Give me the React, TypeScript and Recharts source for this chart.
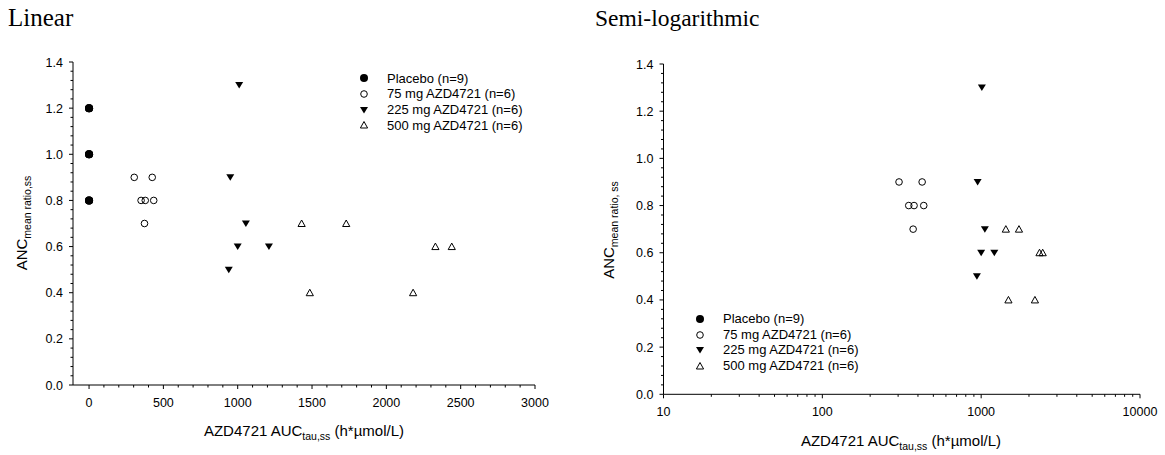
import React from 'react';
import { ScatterChart, Scatter, XAxis, YAxis, Label, Legend } from 'recharts';

// ---------- data ----------
const placeboAuc = [0, 0, 0, 0, 0, 0, 0, 0, 0];
const placeboAnc = [1.2, 1.2, 1.2, 1.0, 1.0, 1.0, 0.8, 0.8, 0.8];
const mg75Auc = [304, 425, 350, 378, 435, 373];
const mg75Anc = [0.9, 0.9, 0.8, 0.8, 0.8, 0.7];
const mg225Auc = [1010, 950, 1055, 1000, 1210, 940];
const mg225Anc = [1.3, 0.9, 0.7, 0.6, 0.6, 0.5];
const mg500Auc = [1430, 1730, 2330, 2440, 1485, 2180];
const mg500Anc = [0.7, 0.7, 0.6, 0.6, 0.4, 0.4];

const seriesNames = ['Placebo (n=9)', '75 mg AZD4721 (n=6)', '225 mg AZD4721 (n=6)', '500 mg AZD4721 (n=6)'];

const linearXMajor = [0, 500, 1000, 1500, 2000, 2500, 3000];
const linearXMinorStep = 100;
const logXMajor = [10, 100, 1000, 10000];
const yMajor = [0, 0.2, 0.4, 0.6, 0.8, 1.0, 1.2, 1.4];
const yMinorPerMajor = 5;

// ---------- helpers ----------
const zip = (xs: number[], ys: number[]) => xs.map((x, i) => ({ x, y: ys[i] }));
const placeboData = zip(placeboAuc, placeboAnc);
const mg75Data = zip(mg75Auc, mg75Anc);
const mg225Data = zip(mg225Auc, mg225Anc);
const mg500Data = zip(mg500Auc, mg500Anc);

const linearXTicks: number[] = [];
for (let v = linearXMajor[0]; v <= linearXMajor[linearXMajor.length - 1]; v += linearXMinorStep) linearXTicks.push(v);
const logXTicks: number[] = [];
for (let d = 0; d < logXMajor.length - 1; d++) {
  for (let k = 1; k < 10; k++) logXTicks.push(logXMajor[d] * k);
}
logXTicks.push(logXMajor[logXMajor.length - 1]);
const yTicks: number[] = [];
for (let i = 0; i < yMajor.length - 1; i++) {
  const step = (yMajor[i + 1] - yMajor[i]) / yMinorPerMajor;
  for (let k = 0; k < yMinorPerMajor; k++) yTicks.push(Math.round((yMajor[i] + k * step) * 1000) / 1000);
}
yTicks.push(yMajor[yMajor.length - 1]);

const FONT = '"Liberation Sans", Arial, sans-serif';
const TICK_FS = 12.5;
const MAJOR_LEN = 4;
const MINOR_LEN = 2.5;

const isMajorIn = (list: number[], v: number) => list.some((m) => Math.abs(m - v) < 1e-9);

const makeXTick = (majors: number[]) => (props: any) => {
  const { x, y, payload } = props;
  const v = payload.value;
  const major = isMajorIn(majors, v);
  return (
    <g>
      <line x1={x} x2={x} y1={y} y2={y + (major ? MAJOR_LEN : MINOR_LEN)} stroke="#000" strokeWidth={1} />
      {major && (
        <text x={x} y={y + 22} textAnchor="middle" fontSize={TICK_FS} fontFamily={FONT} fill="#000">
          {String(v)}
        </text>
      )}
    </g>
  );
};

const YTick = (props: any) => {
  const { x, y, payload } = props;
  const v = payload.value;
  const major = isMajorIn(yMajor, v);
  return (
    <g>
      <line x1={x} x2={x - (major ? MAJOR_LEN : MINOR_LEN)} y1={y} y2={y} stroke="#000" strokeWidth={1} />
      {major && (
        <text x={x - 10} y={y + 4.5} textAnchor="end" fontSize={TICK_FS} fontFamily={FONT} fill="#000">
          {v.toFixed(1)}
        </text>
      )}
    </g>
  );
};

// ---------- marker shapes ----------
const FilledCircle = (p: any) => <circle cx={p.cx} cy={p.cy} r={4} fill="#000" />;
const OpenCircle = (p: any) => <circle cx={p.cx} cy={p.cy} r={3.3} fill="none" stroke="#000" strokeWidth={1} />;
const DownTriangle = (p: any) => (
  <polygon points={`${p.cx - 4},${p.cy - 3} ${p.cx + 4},${p.cy - 3} ${p.cx},${p.cy + 3.5}`} fill="#000" />
);
const UpTriangle = (p: any) => (
  <polygon
    points={`${p.cx - 3.6},${p.cy + 3} ${p.cx + 3.6},${p.cy + 3} ${p.cx},${p.cy - 3.5}`}
    fill="none"
    stroke="#000"
    strokeWidth={1}
  />
);
const shapes = [FilledCircle, OpenCircle, DownTriangle, UpTriangle];

const makeLegend = (textGap: number) => () => (
  <div style={{ fontFamily: FONT, fontSize: 13, color: '#000' }}>
    {seriesNames.map((name, i) => {
      const Shape = shapes[i];
      return (
        <div key={name} style={{ display: 'flex', alignItems: 'center', height: 15.7, whiteSpace: 'nowrap' }}>
          <svg width={12} height={12} style={{ display: 'block' }}>
            <Shape cx={6} cy={6} />
          </svg>
          <span style={{ marginLeft: textGap, lineHeight: '15.7px' }}>{name}</span>
        </div>
      );
    })}
  </div>
);

const XTitle = (cx: number, y: number) => () => (
  <text x={cx} y={y} textAnchor="middle" fontFamily={FONT} fontSize={15} fill="#000">
    <tspan>AZD4721 AUC</tspan>
    <tspan fontSize={10.5} dy={4}>tau,ss</tspan>
    <tspan dy={-4}> (h*µmol/L)</tspan>
  </text>
);

const YTitle = (x: number, cy: number, sub: string) => () => (
  <text x={x} y={cy} transform={`rotate(-90, ${x}, ${cy})`} textAnchor="middle" fontFamily={FONT} fontSize={15} fill="#000">
    <tspan>ANC</tspan>
    <tspan fontSize={10.5} dy={4}>{sub}</tspan>
  </text>
);

const TITLE_STYLE: React.CSSProperties = {
  position: 'absolute',
  top: 4,
  fontFamily: '"Liberation Serif", "Times New Roman", serif',
  fontSize: 24,
  lineHeight: '28px',
  whiteSpace: 'nowrap',
};

export default function App() {
  return (
    <div style={{ position: 'absolute', left: 0, top: 0, width: 1165, height: 455, background: '#fff' }}>
      <div style={{ ...TITLE_STYLE, left: 8, fontSize: 25 }}>Linear</div>
      <div style={{ ...TITLE_STYLE, left: 595, fontSize: 23.5 }}>Semi-logarithmic</div>

      {/* Linear chart */}
      <div style={{ position: 'absolute', left: 0, top: 0 }}>
        <ScatterChart width={580} height={455} margin={{ top: 62, right: 45, bottom: 30, left: 13 }}>
          <XAxis
            dataKey="x"
            type="number"
            domain={[-108, 3000]}
            allowDataOverflow
            ticks={linearXTicks}
            interval={0}
            tickSize={0}
            tickMargin={0}
            tickLine={false}
            tick={makeXTick(linearXMajor)}
            axisLine={{ stroke: '#000', strokeWidth: 1 }}
            height={40}
          >
            <Label content={XTitle(304, 436)} />
          </XAxis>
          <YAxis
            dataKey="y"
            type="number"
            domain={[0, 1.4]}
            allowDataOverflow
            ticks={yTicks}
            interval={0}
            tickSize={0}
            tickMargin={0}
            tickLine={false}
            tick={YTick}
            axisLine={{ stroke: '#000', strokeWidth: 1 }}
            width={60}
          >
            <Label content={YTitle(27, 223, 'mean ratio,ss')} />
          </YAxis>
          <Legend
            layout="vertical"
            align="center"
            verticalAlign="middle"
            content={makeLegend(17)}
            wrapperStyle={{ left: 358, top: 70.5, width: 'auto', height: 'auto' }}
          />
          <Scatter name={seriesNames[0]} data={placeboData} shape={FilledCircle} isAnimationActive={false} />
          <Scatter name={seriesNames[1]} data={mg75Data} shape={OpenCircle} isAnimationActive={false} />
          <Scatter name={seriesNames[2]} data={mg225Data} shape={DownTriangle} isAnimationActive={false} />
          <Scatter name={seriesNames[3]} data={mg500Data} shape={UpTriangle} isAnimationActive={false} />
        </ScatterChart>
      </div>

      {/* Semi-log chart */}
      <div style={{ position: 'absolute', left: 580, top: 0 }}>
        <ScatterChart width={585} height={455} margin={{ top: 64, right: 25, bottom: 20.7, left: 23.5 }}>
          <XAxis
            dataKey="x"
            type="number"
            scale="log"
            domain={[10, 10000]}
            allowDataOverflow
            ticks={logXTicks}
            interval={0}
            tickSize={0}
            tickMargin={0}
            tickLine={false}
            tick={makeXTick(logXMajor)}
            axisLine={{ stroke: '#000', strokeWidth: 1 }}
            height={40}
          >
            <Label content={XTitle(321, 446)} />
          </XAxis>
          <YAxis
            dataKey="y"
            type="number"
            domain={[0, 1.4]}
            allowDataOverflow
            ticks={yTicks}
            interval={0}
            tickSize={0}
            tickMargin={0}
            tickLine={false}
            tick={YTick}
            axisLine={{ stroke: '#000', strokeWidth: 1 }}
            width={60}
          >
            <Label content={YTitle(34, 230, 'mean ratio, ss')} />
          </YAxis>
          <Legend
            layout="vertical"
            align="center"
            verticalAlign="middle"
            content={makeLegend(17)}
            wrapperStyle={{ left: 114, top: 311, width: 'auto', height: 'auto' }}
          />
          <Scatter name={seriesNames[1]} data={mg75Data} shape={OpenCircle} isAnimationActive={false} />
          <Scatter name={seriesNames[2]} data={mg225Data} shape={DownTriangle} isAnimationActive={false} />
          <Scatter name={seriesNames[3]} data={mg500Data} shape={UpTriangle} isAnimationActive={false} />
        </ScatterChart>
      </div>
    </div>
  );
}
